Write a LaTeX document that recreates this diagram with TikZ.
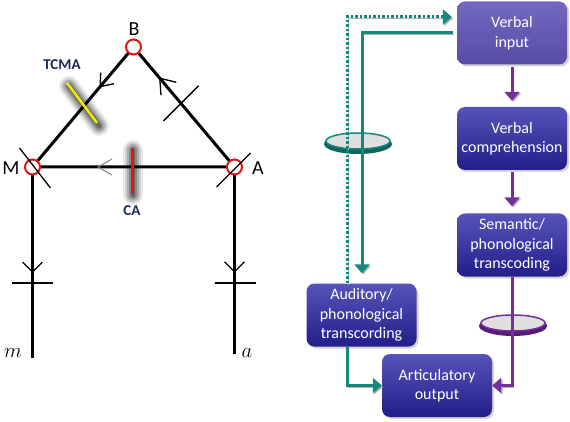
\documentclass[tikz,border=0pt]{standalone}
\usepackage{fontspec}
\setmainfont{Carlito}
\usetikzlibrary{calc,arrows.meta,shadows,backgrounds}
\definecolor{tealc}{RGB}{22,135,125}
\definecolor{tealdk}{RGB}{12,100,92}
\definecolor{purc}{RGB}{118,45,158}
\definecolor{purdk}{RGB}{85,28,120}
\definecolor{navy}{RGB}{25,40,95}
\definecolor{boxtop}{RGB}{86,84,184}
\definecolor{boxbot}{RGB}{34,30,138}
\definecolor{vitop}{RGB}{116,104,192}
\definecolor{vibot}{RGB}{86,76,166}
\definecolor{redc}{RGB}{225,20,20}
\definecolor{yelc}{RGB}{242,236,0}
\newcommand\blurbar[2]{%
  \foreach \w/\o in {20/0.08,16/0.12,12/0.16,8/0.22,4/0.25}{%
    \draw[line width=\w pt, line cap=round, black, opacity=\o] #1 -- #2;}}
\begin{document}
\begin{tikzpicture}[x=1pt,y=-1pt,
  blk/.style={line width=3pt, black},
  thinl/.style={line width=1.3pt, black},
  circ/.style={circle, draw=redc, line width=2pt, fill=white, minimum size=15pt, inner sep=0pt},
  lbl/.style={font=\fontsize{20}{22}\selectfont, inner sep=0pt},
  tag/.style={font=\bfseries\fontsize{15}{17}\selectfont, text=navy, inner sep=0pt},
  box/.style={rounded corners=8pt, minimum width=110pt, minimum height=63pt, inner sep=0pt,
    align=center, text=white, font=\fontsize{16}{19.5}\selectfont,
    top color=boxtop, bottom color=boxbot, draw=none,
    drop shadow={shadow xshift=2pt, shadow yshift=-2pt, opacity=0.35}},
  vibox/.style={box, top color=vitop, bottom color=vibot},
  ashadow/.style={preaction={draw=gray!60, transform canvas={shift={(1.3pt,-1.3pt)}}}},
  parr/.style={line width=3pt, purc, -{Triangle[width=15pt,length=9pt]}, ashadow},
  tarr/.style={line width=3pt, tealc, -{Triangle[width=15pt,length=9pt]}, ashadow},
]
\useasboundingbox (0,0) rectangle (570,422);

% ---------- left diagram ----------
\node[circ] (B) at (133.5,47) {};
\node[circ] (M) at (32.5,167) {};
\node[circ] (A) at (234.5,167) {};
\coordinate (mEnd) at (32.5,358);
\coordinate (aEnd) at (234.5,354);

\begin{scope}[on background layer]
  \blurbar{(69,86)}{(99,126)}
  \blurbar{(133,150)}{(133,195)}
  \draw[blk] (M.center) -- (B.center) -- (A.center) -- (M.center);
  \draw[blk] (M.center) -- (mEnd);
  \draw[blk] (A.center) -- (aEnd);
\end{scope}

% bars
\draw[yelc, line width=2.5pt] (67,83) -- (97,123);
\draw[redc, line width=3pt] (132,148) -- (132,193);

% open arrow marks
\coordinate (t1) at ($(B)!0.33!(M)$);
\draw[thinl] ($(t1)!14pt!38:(B)$) -- (t1) -- ($(t1)!14pt!-38:(B)$);
\coordinate (t2) at ($(B)!0.26!(A)$);
\draw[thinl] ($(t2)!17pt!36:(A)$) -- (t2) -- ($(t2)!17pt!-36:(A)$);
\coordinate (t3) at ($(A)!0.675!(M)$);
\draw[gray, line width=1pt] ($(t3)!16pt!30:(A)$) -- (t3) -- ($(t3)!16pt!-30:(A)$);
\coordinate (t4) at ($(M)!0.55!(mEnd)$);
\draw[thinl] ($(t4)!14pt!45:(M)$) -- (t4) -- ($(t4)!14pt!-45:(M)$);
\coordinate (t5) at ($(A)!0.56!(aEnd)$);
\draw[thinl] ($(t5)!14pt!45:(A)$) -- (t5) -- ($(t5)!14pt!-45:(A)$);

% cross ticks
\coordinate (k1) at ($(M)!0.607!(mEnd)$);
\draw[thinl] ($(k1)+(-21,0)$) -- ($(k1)+(20,0)$);
\coordinate (k2) at ($(A)!0.62!(aEnd)$);
\draw[thinl] ($(k2)+(-20,0)$) -- ($(k2)+(21,0)$);
\coordinate (k3) at ($(B)!0.47!(A)$);
\draw[thinl] ($(k3)+(-17.5,17.5)$) -- ($(k3)+(17.5,-17.5)$);
\draw[thinl] ($(M)+(-13,-19)$) -- ($(M)+(18,21)$);
\draw[thinl] ($(A)+(-18,20)$) -- ($(A)+(16,-14)$);

% labels
\node[lbl] (lB) at (134,29) {B};
\node[lbl] (lM) at (11,168) {M};
\node[lbl] (lA) at (258,168) {A};
\node[tag] (lT) at (62,65) {TCMA};
\node[tag] (lC) at (132,211) {CA};
\node[inner sep=0pt] (lm) at (13,353) {\fontsize{21}{21}\selectfont$m$};
\node[inner sep=0pt] (la) at (247,353) {\fontsize{21}{21}\selectfont$a$};

% ---------- right diagram ----------
\node[vibox] (vi) at (512,33) {Verbal\\input};
\node[box] (vc) at (512,138.5) {Verbal\\comprehension};
\node[box] (sem) at (512,245) {Semantic/\\phonological\\transcoding};
\node[box] (aud) at (361.5,315) {Auditory/\\phonological\\transcording};
\node[box] (art) at (437,385.5) {Articulatory\\output};

% discs
\fill[tealdk] (358,144) ellipse [x radius=34, y radius=10];
\fill[gray!25, draw=tealc, line width=1.5pt] (358,141) ellipse [x radius=32, y radius=8];
\fill[purdk] (513,326) ellipse [x radius=34, y radius=10];
\fill[gray!25, draw=purc, line width=1.5pt] (513,323) ellipse [x radius=32, y radius=8];

\coordinate (dtop) at (347,17);
\coordinate (scorner) at (362,33);

\draw[tarr, dash pattern=on 2.5pt off 2pt, line width=3pt, shorten >=5pt]
  (aud.north -| dtop) -- (dtop) -- (dtop -| vi.west);
\draw[tarr, shorten <=4pt, shorten >=10pt]
  (vi.west) -- (vi.west -| scorner) -- (aud.north -| scorner);
\draw[parr, shorten <=2pt, shorten >=6pt] (vi.south) -- (vc.north);
\draw[parr, shorten <=2pt, shorten >=7pt] (vc.south) -- (sem.north);
\draw[tarr] (aud.south -| dtop) |- (art.west);
\draw[parr] (sem.south) |- (art.east);
\end{tikzpicture}
\end{document}
